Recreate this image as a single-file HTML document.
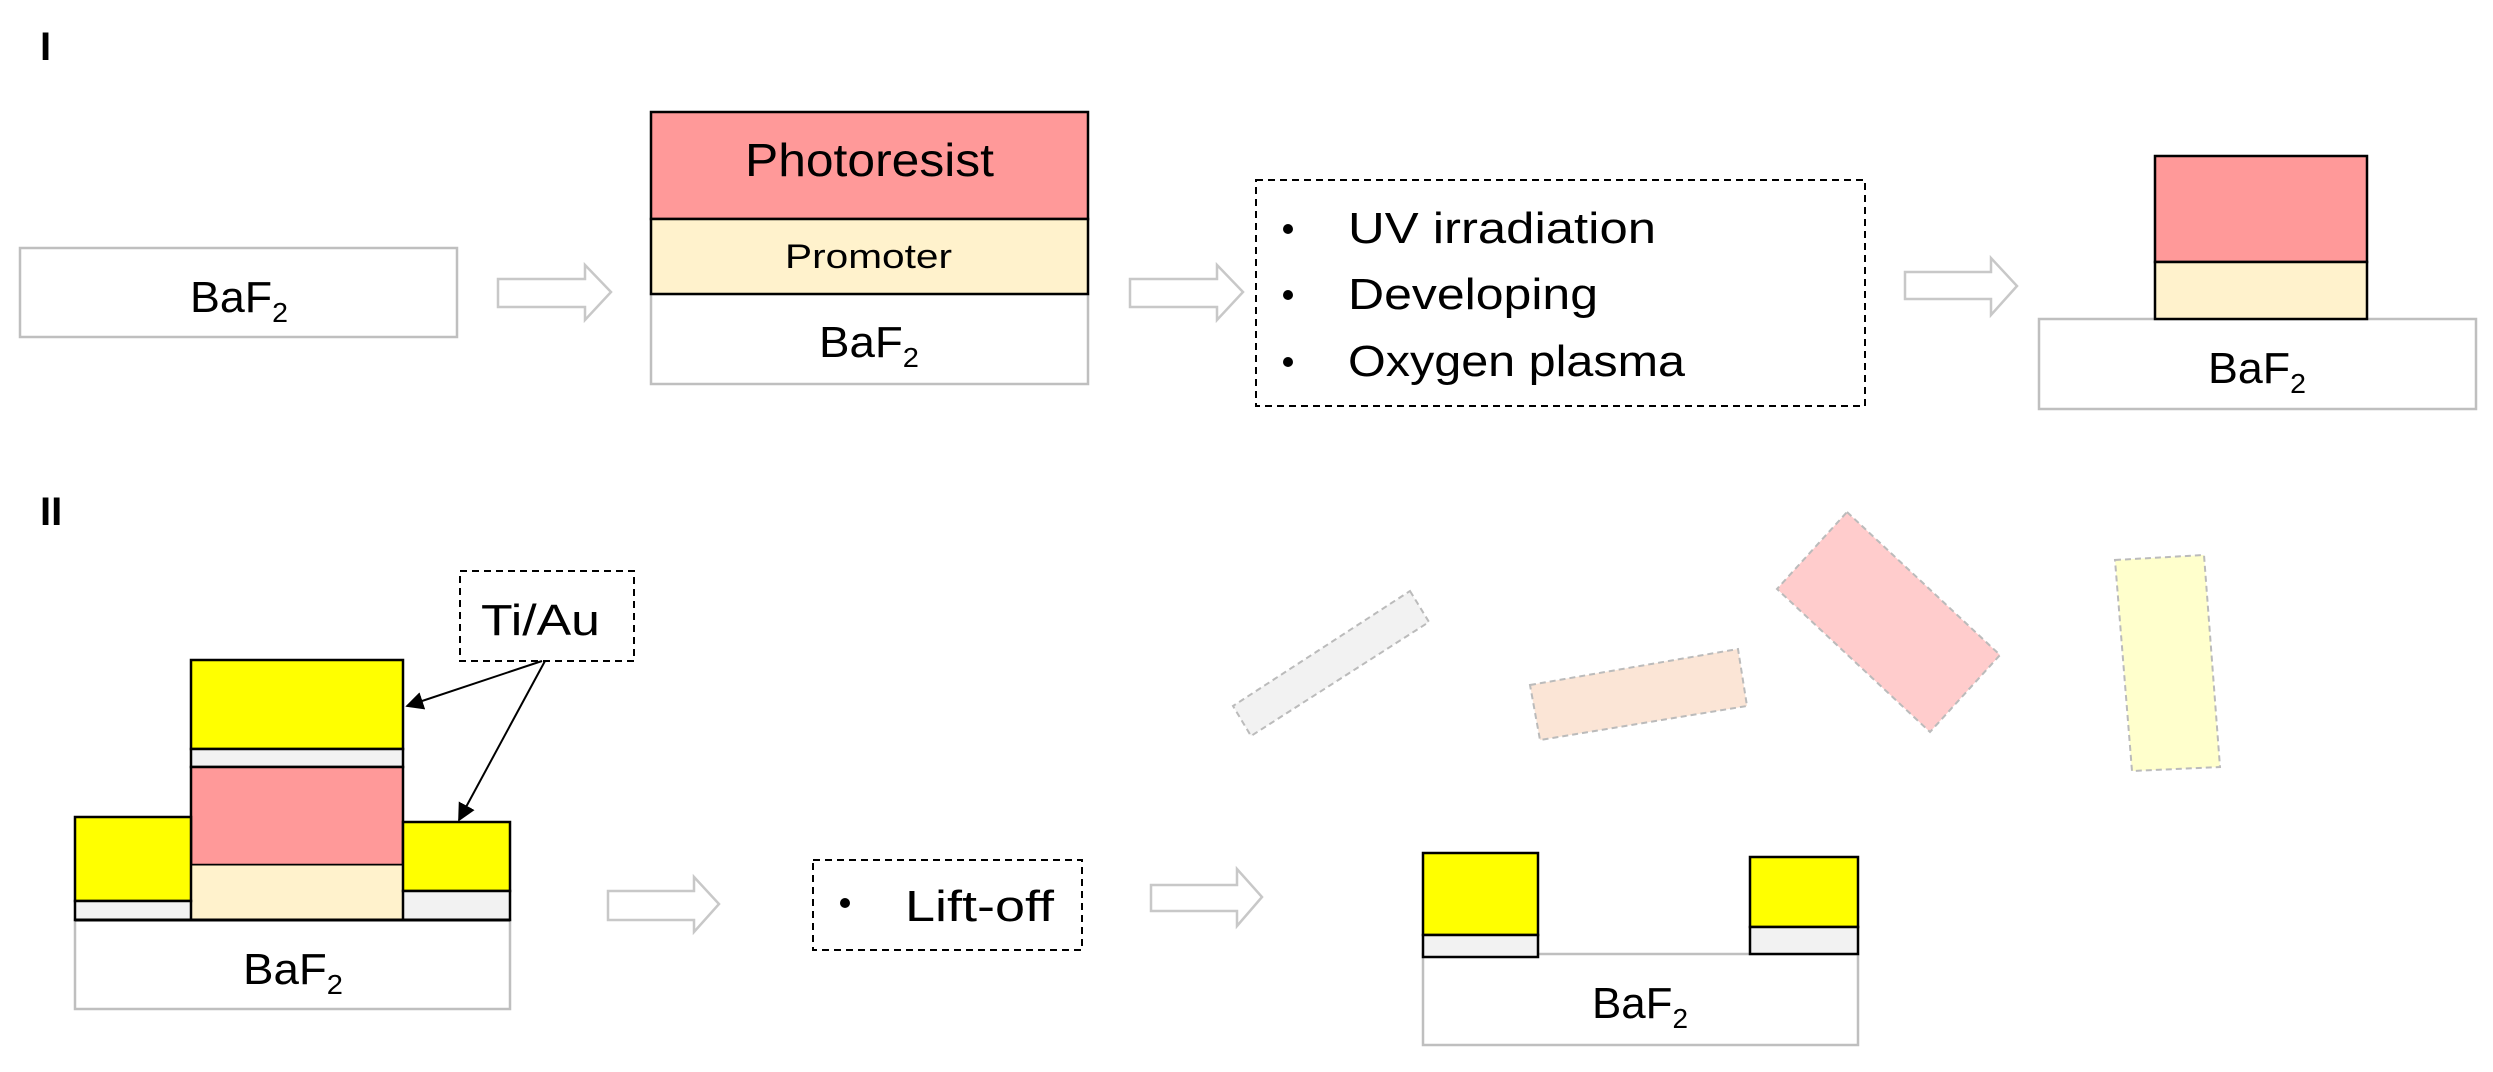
<!DOCTYPE html>
<html><head><meta charset="utf-8"><style>html,body{margin:0;padding:0;background:#fff}svg{display:block}</style></head>
<body>
<svg width="2493" height="1072" viewBox="0 0 2493 1072" xmlns="http://www.w3.org/2000/svg" font-family="Liberation Sans, sans-serif">
<defs>
<marker id="ah" viewBox="0 0 10 10" refX="9" refY="5" markerWidth="9" markerHeight="9" orient="auto"><path d="M0,0 L10,5 L0,10 z" fill="#000"/></marker>
</defs>
<g fill="#000">
<text x="40" y="60" font-size="40" font-weight="bold">I</text>
<text x="40" y="525" font-size="40" font-weight="bold">II</text>
</g>
<!-- block arrows -->
<g fill="#fff" stroke="#c8c8c8" stroke-width="2.5">
<path d="M498,279 H585 V265 L611,292 L585,320 V307 H498 Z"/>
<path d="M1130,279 H1217 V265 L1243,292 L1217,320 V307 H1130 Z"/>
<path d="M1905,272 H1991 V258 L2017,286 L1991,315 V299 H1905 Z"/>
<path d="M608,891 H694 V877 L719,904 L694,932 V920 H608 Z"/>
<path d="M1151,885 H1237 V869 L1262,897 L1237,926 V911 H1151 Z"/>
</g>
<!-- Step 1 -->
<rect x="20" y="248" width="437" height="89" fill="#fff" stroke="#bfbfbf" stroke-width="2.5"/>
<text x="190" y="312" font-size="44" textLength="98" lengthAdjust="spacingAndGlyphs">BaF<tspan font-size="28" dy="10">2</tspan></text>
<!-- Step 2 -->
<rect x="651" y="294" width="437" height="90" fill="#fff" stroke="#bfbfbf" stroke-width="2.5"/>
<rect x="651" y="112" width="437" height="107" fill="#ff9999" stroke="#000" stroke-width="2.5"/>
<rect x="651" y="219" width="437" height="75" fill="#fff2cc" stroke="#000" stroke-width="2.5"/>
<text x="745" y="176" font-size="46" textLength="249" lengthAdjust="spacingAndGlyphs">Photoresist</text>
<text x="785" y="268" font-size="34" textLength="167" lengthAdjust="spacingAndGlyphs">Promoter</text>
<text x="819" y="357" font-size="44" textLength="100" lengthAdjust="spacingAndGlyphs">BaF<tspan font-size="28" dy="10">2</tspan></text>
<!-- Step 3 -->
<rect x="1256" y="180" width="609" height="226" fill="#fff" stroke="#000" stroke-width="2" stroke-dasharray="7,5"/>
<g font-size="44">
<circle cx="1288" cy="229" r="5"/><circle cx="1288" cy="295" r="5"/><circle cx="1288" cy="362" r="5"/>
<text x="1348" y="243" textLength="308" lengthAdjust="spacingAndGlyphs">UV irradiation</text>
<text x="1348" y="309" textLength="250" lengthAdjust="spacingAndGlyphs">Developing</text>
<text x="1348" y="376" textLength="337" lengthAdjust="spacingAndGlyphs">Oxygen plasma</text>
</g>
<!-- Step 4 -->
<rect x="2039" y="319" width="437" height="90" fill="#fff" stroke="#bfbfbf" stroke-width="2.5"/>
<rect x="2155" y="156" width="212" height="106" fill="#ff9999" stroke="#000" stroke-width="2.5"/>
<rect x="2155" y="262" width="212" height="57" fill="#fff2cc" stroke="#000" stroke-width="2.5"/>
<text x="2208" y="383" font-size="44" textLength="98" lengthAdjust="spacingAndGlyphs">BaF<tspan font-size="28" dy="10">2</tspan></text>
<!-- II left structure -->
<rect x="75" y="920" width="435" height="89" fill="#fff" stroke="#bfbfbf" stroke-width="2.5"/>
<rect x="191" y="660" width="212" height="89" fill="#ffff00" stroke="#000" stroke-width="2.5"/>
<rect x="191" y="749" width="212" height="18" fill="#f2f2f2" stroke="#000" stroke-width="2.5"/>
<rect x="191" y="767" width="212" height="98" fill="#ff9999" stroke="#000" stroke-width="2.5"/>
<rect x="191" y="865" width="212" height="55" fill="#fff2cc" stroke="#000" stroke-width="1"/>
<rect x="75" y="817" width="116" height="84" fill="#ffff00" stroke="#000" stroke-width="2.5"/>
<rect x="75" y="901" width="116" height="19" fill="#f2f2f2" stroke="#000" stroke-width="2.5"/>
<rect x="403" y="822" width="107" height="69" fill="#ffff00" stroke="#000" stroke-width="2.5"/>
<rect x="403" y="891" width="107" height="29" fill="#f2f2f2" stroke="#000" stroke-width="2.5"/>
<line x1="75" y1="920" x2="510" y2="920" stroke="#000" stroke-width="3"/>
<text x="243" y="984" font-size="44" textLength="100" lengthAdjust="spacingAndGlyphs">BaF<tspan font-size="28" dy="10">2</tspan></text>
<rect x="460" y="571" width="174" height="90" fill="#fff" stroke="#000" stroke-width="2" stroke-dasharray="7,5"/>
<text x="481" y="635" font-size="44" textLength="119" lengthAdjust="spacingAndGlyphs">Ti/Au</text>
<g stroke="#000" stroke-width="2" marker-end="url(#ah)">
<line x1="542" y1="661" x2="407" y2="706"/>
<line x1="545" y1="661" x2="459" y2="820"/>
</g>
<!-- Lift-off -->
<rect x="813" y="860" width="269" height="90" fill="#fff" stroke="#000" stroke-width="2" stroke-dasharray="7,5"/>
<circle cx="845" cy="903" r="5"/>
<text x="905" y="921" font-size="44" textLength="149" lengthAdjust="spacingAndGlyphs">Lift-off</text>
<!-- fragments -->
<g stroke="#bbb" stroke-width="2" stroke-dasharray="6,4">
<polygon points="1410,591 1429,622 1251,736 1233,706" fill="#f2f2f2"/>
<polygon points="1530,685 1738,649 1747,706 1540,740" fill="#fbe5d6"/>
<polygon points="1847,512 2000,655 1930,732 1777,589" fill="#ffcccc"/>
<polygon points="2115,560 2204,555 2220,767 2132,771" fill="#ffffcc"/>
</g>
<!-- final -->
<rect x="1423" y="954" width="435" height="91" fill="#fff" stroke="#bfbfbf" stroke-width="2.5"/>
<rect x="1423" y="853" width="115" height="82" fill="#ffff00" stroke="#000" stroke-width="2.5"/>
<rect x="1423" y="935" width="115" height="22" fill="#f2f2f2" stroke="#000" stroke-width="2.5"/>
<rect x="1750" y="857" width="108" height="70" fill="#ffff00" stroke="#000" stroke-width="2.5"/>
<rect x="1750" y="927" width="108" height="27" fill="#f2f2f2" stroke="#000" stroke-width="2.5"/>
<text x="1592" y="1018" font-size="44" textLength="96" lengthAdjust="spacingAndGlyphs">BaF<tspan font-size="28" dy="10">2</tspan></text>
</svg>
</body></html>
